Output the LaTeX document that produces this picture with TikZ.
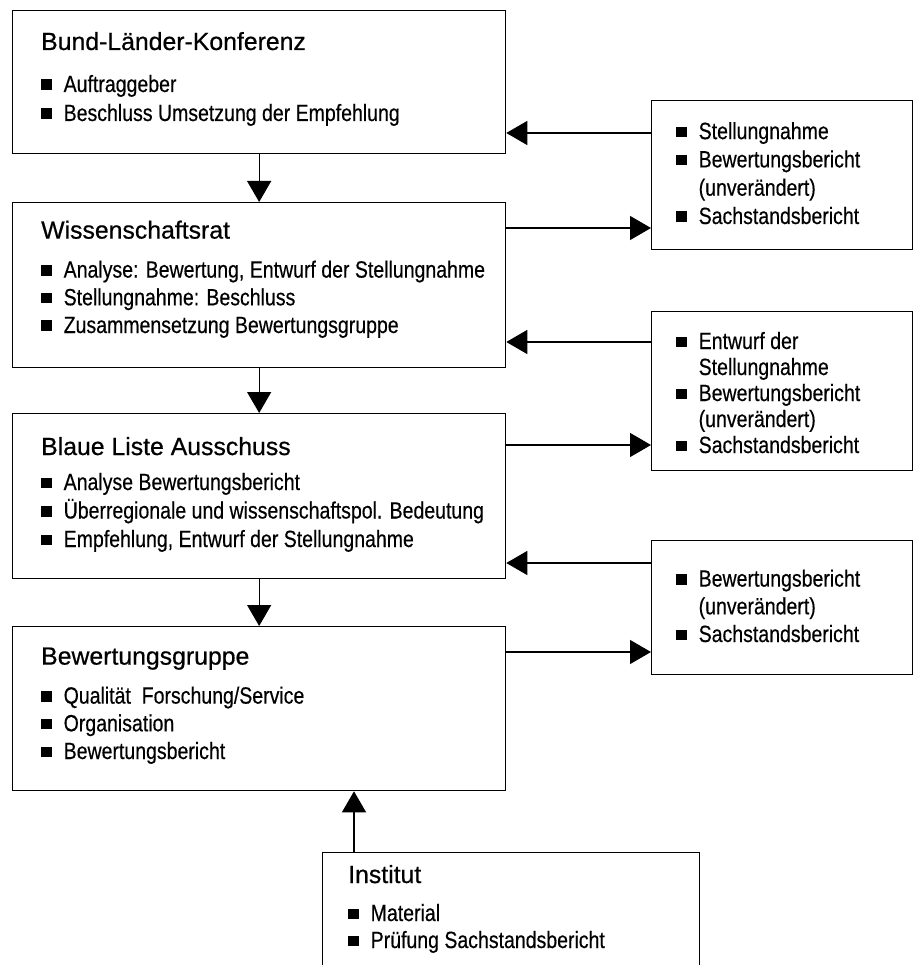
\documentclass[tikz,border=0pt]{standalone}
\usepackage{fontspec}
\setmainfont[FakeBold=0.6]{Liberation Sans}
\newfontfamily\narrowfont[FakeStretch=0.83,FakeBold=0.4]{Liberation Sans}
\usetikzlibrary{arrows.meta}

\newcommand{\hd}[1]{{\rmfamily\fontsize{24.8}{27.7}\selectfont #1}}
\newcommand{\itm}[1]{\makebox[22.5pt][l]{\raisebox{2pt}{\rule{10.5pt}{10.5pt}}}#1}
\newcommand{\cnt}[1]{\hspace*{22.5pt}#1}

\begin{document}
\begin{tikzpicture}[x=1pt, y=-1pt,
    box/.style={draw, line width=1.3pt, rectangle, inner sep=0pt, anchor=north west},
    txt/.style={anchor=base west, align=left, inner sep=0pt, font=\narrowfont\fontsize{23.5}{27.7}\selectfont},
    arr/.style={line width=1.3pt, -{Triangle[length=21pt,width=24pt]}}]
    \useasboundingbox (0,0) rectangle (916,965);
    \clip (0,0) rectangle (916,965);

    % left column
    \node[box, minimum width=493pt, minimum height=143pt] (blk) at (12,10) {};
    \node[box, minimum width=493pt, minimum height=165pt] (wr) at (12,202) {};
    \node[box, minimum width=493pt, minimum height=165pt] (bla) at (12,413) {};
    \node[box, minimum width=493pt, minimum height=164pt] (bwg) at (12,626) {};
    \node[box, minimum width=377pt, minimum height=140pt] (inst) at (322,852) {};

    % right column
    \node[box, minimum width=261pt, minimum height=149pt] (r1) at (651,100) {};
    \node[box, minimum width=261pt, minimum height=159pt] (r2) at (651,311) {};
    \node[box, minimum width=261pt, minimum height=134pt] (r3) at (651,540) {};

    % texts (anchored at the baseline of their last line)
    \node[txt] (blk-t) at ([shift={(29,111)}]blk.north west)
        {\hd{Bund-Länder-Konferenz}\\[14.3pt]
         \itm{Auftraggeber}\\[1.3pt]
         \itm{Beschluss Umsetzung der Empfehlung}};
    \node[txt] (wr-t) at ([shift={(29,131)}]wr.north west)
        {\hd{Wissenschaftsrat}\\[11.3pt]
         \itm{Analyse: Bewertung, Entwurf der Stellungnahme}\\
         \itm{Stellungnahme: Beschluss}\\
         \itm{Zusammensetzung Bewertungsgruppe}};
    \node[txt] (bla-t) at ([shift={(29,134)}]bla.north west)
        {\hd{Blaue Liste Ausschuss}\\[7.3pt]
         \itm{Analyse Bewertungsbericht}\\[0.8pt]
         \itm{Überregionale und wissenschaftspol. Bedeutung}\\[0.8pt]
         \itm{Empfehlung, Entwurf der Stellungnahme}};
    \node[txt] (bwg-t) at ([shift={(29,133)}]bwg.north west)
        {\hd{Bewertungsgruppe}\\[11.3pt]
         \itm{Qualität\ \ Forschung/Service}\\
         \itm{Organisation}\\
         \itm{Bewertungsbericht}};
    \node[txt] (inst-t) at ([shift={(26,96)}]inst.north west)
        {\hd{Institut}\\[10.3pt]
         \itm{Material}\\[-0.7pt]
         \itm{Prüfung Sachstandsbericht}};
    \node[txt] (r1-t) at ([shift={(25,124)}]r1.north west)
        {\itm{Stellungnahme}\\[0.6pt]
         \itm{Bewertungsbericht}\\[0.6pt]
         \cnt{(unverändert)}\\[0.6pt]
         \itm{Sachstandsbericht}};
    \node[txt] (r2-t) at ([shift={(25,142)}]r2.north west)
        {\itm{Entwurf der}\\[-1.7pt]
         \cnt{Stellungnahme}\\[-1.7pt]
         \itm{Bewertungsbericht}\\[-1.7pt]
         \cnt{(unverändert)}\\[-1.7pt]
         \itm{Sachstandsbericht}};
    \node[txt] (r3-t) at ([shift={(25,102)}]r3.north west)
        {\itm{Bewertungsbericht}\\
         \cnt{(unverändert)}\\
         \itm{Sachstandsbericht}};

    % arrows down
    \draw[arr] (blk.south) -- (wr.north);
    \draw[arr] (wr.south) -- (bla.north);
    \draw[arr] (bla.south) -- (bwg.north);
    \draw[arr] (inst.north -| 354,0) -- (bwg.south -| 354,0);

    % arrows to and from the right
    \draw[arr] (r1.west |- 0,133) -- (blk.east |- 0,133);
    \draw[arr] (wr.east |- 0,228) -- (r1.west |- 0,228);
    \draw[arr] (r2.west |- 0,342) -- (wr.east |- 0,342);
    \draw[arr] (bla.east |- 0,445) -- (r2.west |- 0,445);
    \draw[arr] (r3.west |- 0,563) -- (bla.east |- 0,563);
    \draw[arr] (bwg.east |- 0,652) -- (r3.west |- 0,652);
\end{tikzpicture}
\end{document}
